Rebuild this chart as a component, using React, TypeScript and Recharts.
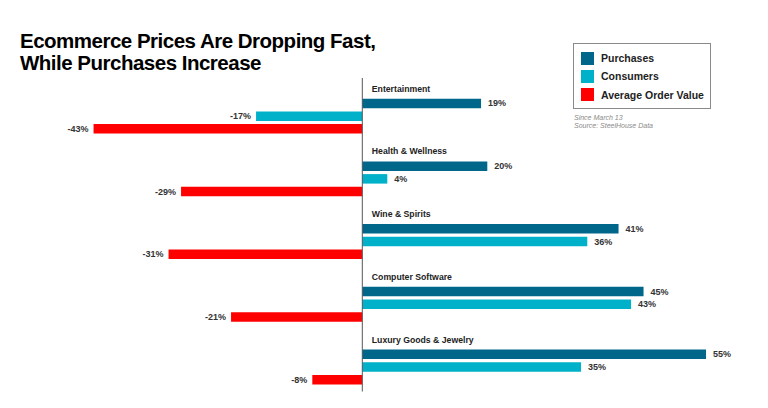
import { BarChart, Bar, XAxis, YAxis, ReferenceLine, LabelList } from 'recharts';

const categories = ['Entertainment', 'Health & Wellness', 'Wine & Spirits', 'Computer Software', 'Luxury Goods & Jewelry'];
const purchases = [19, 20, 41, 45, 55];
const consumers = [-17, 4, 36, 43, 35];
const avgOrderValue = [-43, -29, -31, -21, -8];

const seriesNames = ['Purchases', 'Consumers', 'Average Order Value'];
const seriesColors = ['#00678a', '#00b1c9', '#ff0000'];

const data = categories.map((name, i) => ({
  name,
  header: 0,
  purchases: purchases[i],
  consumers: consumers[i],
  aov: avgOrderValue[i],
}));

const font = '"Liberation Sans", Arial, sans-serif';

// category name sits in the empty slot above each group, just right of the zero line
const HeaderLabel = (props: any) => {
  const { x, y, height, value } = props;
  return (
    <text x={x + 9.5} y={y + height / 2 + 1} fontSize={8.7} fontWeight={700} fill="#222" fontFamily={font}>
      {value}
    </text>
  );
};

const ValueLabel = (props: any) => {
  const { x, y, width, height, value } = props;
  const left = Math.min(x, x + width);
  const right = Math.max(x, x + width);
  const neg = value < 0;
  return (
    <text
      x={neg ? left - 5 : right + 7}
      y={y + height / 2 + 3}
      textAnchor={neg ? 'end' : 'start'}
      fontSize={9}
      fontWeight={700}
      fill="#333"
      fontFamily={font}
    >
      {value}%
    </text>
  );
};

export default function App() {
  return (
    <div style={{ position: 'fixed', left: 0, top: 0, width: 768, height: 408, background: '#fff', fontFamily: font }}>
      <div
        style={{
          position: 'absolute',
          left: 20,
          top: 30,
          fontSize: 20.5,
          lineHeight: '22.4px',
          fontWeight: 700,
          letterSpacing: '-0.5px',
          color: '#000',
        }}
      >
        Ecommerce Prices Are Dropping Fast,
        <br />
        While Purchases Increase
      </div>

      <div
        style={{
          position: 'absolute',
          left: 573,
          top: 43,
          width: 138,
          height: 66,
          border: '1px solid #8a8a8a',
          boxSizing: 'border-box',
          padding: '5px 0 0 7px',
        }}
      >
        {seriesNames.map((s, i) => (
          <div key={s} style={{ display: 'flex', alignItems: 'center', height: 18.3 }}>
            <span style={{ width: 13, height: 13, background: seriesColors[i], display: 'inline-block' }} />
            <span style={{ marginLeft: 7, fontSize: 10.5, fontWeight: 700, color: '#222' }}>{s}</span>
          </div>
        ))}
      </div>
      <div style={{ position: 'absolute', left: 574, top: 114, fontSize: 7, fontStyle: 'italic', color: '#8a8a8a', lineHeight: '8px' }}>
        Since March 13
        <br />
        Source: SteelHouse Data
      </div>

      <BarChart
        width={768}
        height={408}
        data={data}
        layout="vertical"
        margin={{ top: 78, right: 30.7, bottom: 16.5, left: 49.8 }}
        barSize={9.5}
        barGap={3.2}
        style={{ position: 'absolute', left: 0, top: 0 }}
      >
        <XAxis type="number" domain={[-50, 60]} hide />
        <YAxis type="category" dataKey="name" hide />
        <Bar dataKey="header" fill="transparent" minPointSize={1} isAnimationActive={false} legendType="none">
          <LabelList dataKey="name" content={HeaderLabel} />
        </Bar>
        <Bar dataKey="purchases" name="Purchases" fill={seriesColors[0]} isAnimationActive={false}>
          <LabelList dataKey="purchases" content={ValueLabel} />
        </Bar>
        <Bar dataKey="consumers" name="Consumers" fill={seriesColors[1]} isAnimationActive={false}>
          <LabelList dataKey="consumers" content={ValueLabel} />
        </Bar>
        <Bar dataKey="aov" name="Average Order Value" fill={seriesColors[2]} isAnimationActive={false}>
          <LabelList dataKey="aov" content={ValueLabel} />
        </Bar>
        <ReferenceLine x={0} stroke="#555" strokeWidth={1} />
      </BarChart>
    </div>
  );
}
